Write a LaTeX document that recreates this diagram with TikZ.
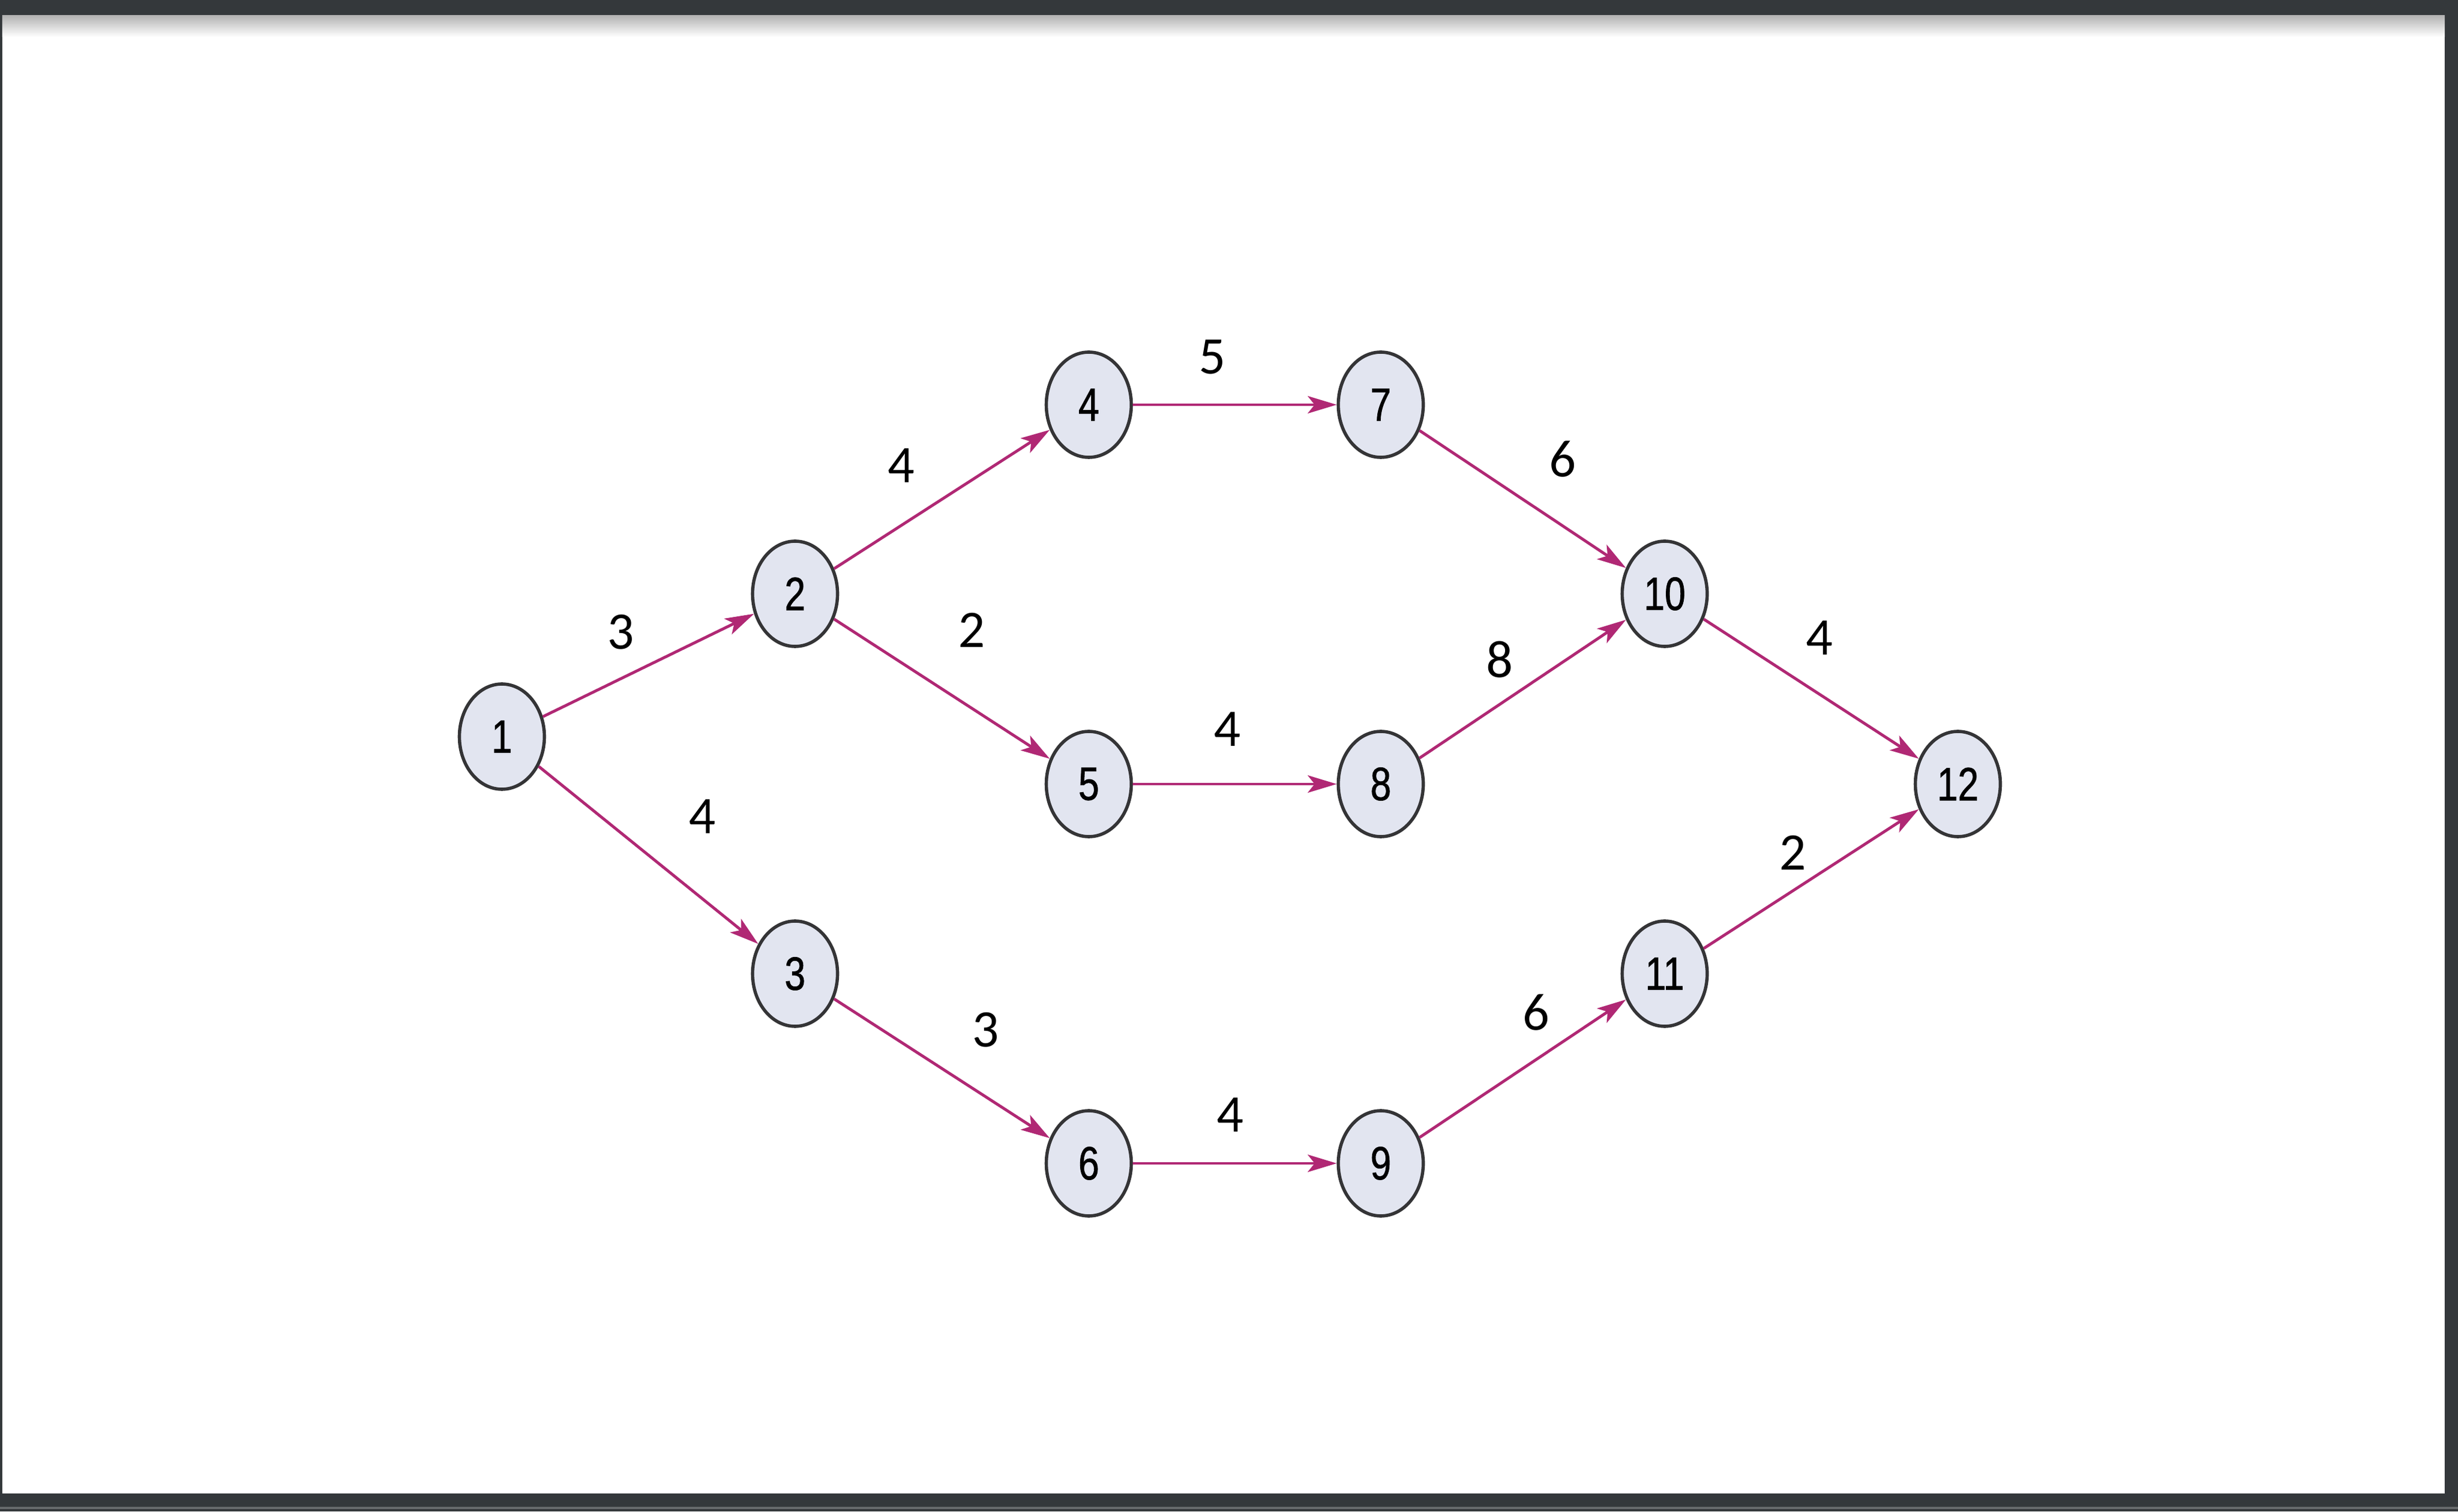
\documentclass[tikz,border=0pt]{standalone}
\usepackage{fontspec}
\setmainfont{Carlito}
\newfontfamily\nodefont[FakeStretch=0.8,FakeBold=1]{Liberation Sans}
\usetikzlibrary{shapes.geometric,arrows.meta}
\definecolor{frame}{RGB}{52,56,59}
\definecolor{vfill}{RGB}{226,229,240}
\definecolor{vline}{RGB}{52,52,54}
\definecolor{linkcol}{RGB}{176,40,116}
\tikzset{
  vertex/.style={ellipse,draw=vline,line width=1.6pt,fill=vfill,minimum width=1.47cm,minimum height=1.82cm,inner sep=0pt,font=\nodefont\fontsize{23}{23}\selectfont},
  link/.style={draw=linkcol,line width=1.4pt,-{Stealth[length=0.5cm,width=0.3cm,inset=0.12cm]}},
  wlabel/.style={font=\fontsize{26}{26}\selectfont,inner sep=0pt}
}
\begin{document}
\begin{tikzpicture}
%Рамка
\fill[frame] (0,0) rectangle (42.51,26.14);
\fill[frame!75!white] (0,0.04) rectangle (42.51,0.08);
\fill[white] (0.04,0.31) rectangle (42.28,25.87);
\shade[top color=black!30,bottom color=white] (0.04,25.5) rectangle (42.28,25.87);
%Вершины
\node[vertex] (n1) at (8.68,13.40) {1};
\node[vertex] (n2) at (13.75,15.87) {2};
\node[vertex] (n3) at (13.75,9.30) {3};
\node[vertex] (n4) at (18.83,19.14) {4};
\node[vertex] (n5) at (18.83,12.58) {5};
\node[vertex] (n6) at (18.83,6.02) {6};
\node[vertex] (n7) at (23.88,19.14) {7};
\node[vertex] (n8) at (23.88,12.58) {8};
\node[vertex] (n9) at (23.88,6.02) {9};
\node[vertex] (n10) at (28.79,15.87) {10};
\node[vertex] (n11) at (28.79,9.30) {11};
\node[vertex] (n12) at (33.86,12.58) {12};
%Дуги
\draw[link] (n1) -- (n2);
\draw[link] (n1) -- (n3);
\draw[link] (n2) -- (n4);
\draw[link] (n2) -- (n5);
\draw[link] (n3) -- (n6);
\draw[link] (n4) -- (n7);
\draw[link] (n5) -- (n8);
\draw[link] (n6) -- (n9);
\draw[link] (n7) -- (n10);
\draw[link] (n8) -- (n10);
\draw[link] (n9) -- (n11);
\draw[link] (n10) -- (n12);
\draw[link] (n11) -- (n12);
%Веса дуг
\node[wlabel] (w12) at (10.74,15.21) {3};
\node[wlabel] (w13) at (12.15,12.02) {4};
\node[wlabel] (w24) at (15.59,18.09) {4};
\node[wlabel] (w25) at (16.81,15.24) {2};
\node[wlabel] (w36) at (17.05,8.33) {3};
\node[wlabel] (w47) at (20.97,19.96) {5};
\node[wlabel] (w58) at (21.23,13.53) {4};
\node[wlabel] (w69) at (21.28,6.86) {4};
\node[wlabel] (w710) at (27.03,18.20) {6};
\node[wlabel] (w810) at (25.94,14.73) {8};
\node[wlabel] (w911) at (26.57,8.63) {6};
\node[wlabel] (w1012) at (31.47,15.11) {4};
\node[wlabel] (w1112) at (31.01,11.39) {2};
\end{tikzpicture}
\end{document}
